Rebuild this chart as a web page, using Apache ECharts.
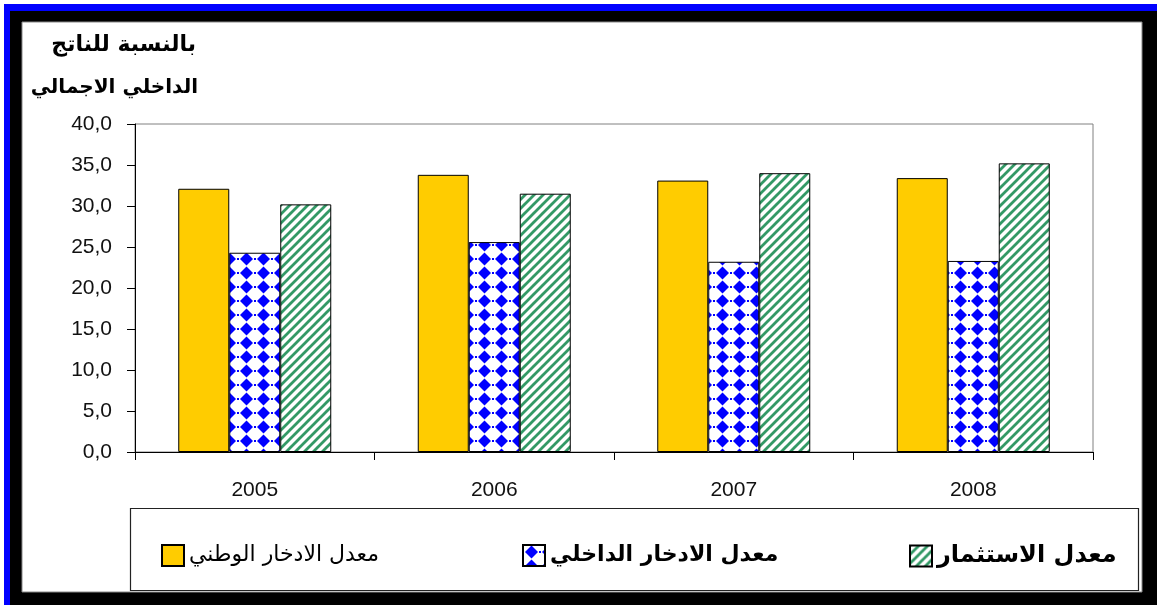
<!DOCTYPE html>
<html>
<head>
<meta charset="utf-8">
<script src="https://cdn.jsdelivr.net/npm/echarts@6/dist/echarts.min.js"></script>
<style>
html,body{margin:0;padding:0;background:#fff;}
#c{width:1157px;height:605px;}
</style>
</head>
<body>
<div id="c"></div>
<script>
const categories = ['2005', '2006', '2007', '2008'];
const nationalSaving = [32.1, 33.8, 33.1, 33.4];
const domesticSaving = [24.3, 25.6, 23.2, 23.3];
const investment = [30.2, 31.5, 34.0, 35.2];
const seriesNames = ['معدل الادخار الوطني', 'معدل الادخار الداخلي', 'معدل الاستثمار'];
const titleLines = ['بالنسبة للناتج', 'الداخلي الاجمالي'];

function makeHatch() {
  const c = document.createElement('canvas');
  c.width = 9; c.height = 9;
  const g = c.getContext('2d');
  g.fillStyle = '#fff'; g.fillRect(0, 0, 9, 9);
  g.strokeStyle = '#339966'; g.lineWidth = 2.8;
  g.beginPath();
  for (let k = -1; k <= 1; k++) { g.moveTo(k * 9 - 1, 10); g.lineTo(k * 9 + 10, -1); }
  g.stroke();
  return c;
}
function makeDiamonds() {
  const w = 17, h = 14;
  const c = document.createElement('canvas');
  c.width = w; c.height = h;
  const g = c.getContext('2d');
  g.fillStyle = '#fff'; g.fillRect(0, 0, w, h);
  g.fillStyle = '#0000ff';
  g.beginPath();
  g.moveTo(8.5, 0.5); g.lineTo(15, 7); g.lineTo(8.5, 13.5); g.lineTo(2, 7); g.closePath();
  g.fill();
  g.fillRect(0, 6, 1, 2); g.fillRect(16, 6, 1, 2);
  return c;
}

const chart = echarts.init(document.getElementById('c'), null, {renderer: 'canvas'});
const border = {borderColor: '#000', borderWidth: 1};
const legendBase = {
  top: 539, itemWidth: 22, itemHeight: 21, icon: 'rect', orient: 'horizontal',
  selectedMode: false,
  textStyle: {fontFamily: 'DejaVu Sans', fontSize: 22, color: '#000'}
};
chart.setOption({
  animation: false,
  backgroundColor: '#fff',
  graphic: [
    {type: 'rect', shape: {x: 4, y: 4, width: 1153, height: 601}, style: {fill: '#0000ff'}, z: -10},
    {type: 'rect', shape: {x: 10, y: 11, width: 1147, height: 594}, style: {fill: '#000'}, z: -9},
    {type: 'rect', shape: {x: 22, y: 22, width: 1120, height: 570}, style: {fill: '#fff', stroke: '#888', lineWidth: 1}, z: -8},
    {type: 'rect', shape: {x: 130.5, y: 508.5, width: 1008, height: 82}, style: {fill: 'none', stroke: '#222', lineWidth: 1.2}, z: -7},
    {type: 'text', x: 196, y: 45, style: {text: titleLines[0], align: 'right', verticalAlign: 'middle', font: 'bold 22px "DejaVu Sans"', fill: '#000'}},
    {type: 'text', x: 198, y: 88, style: {text: titleLines[1], align: 'right', verticalAlign: 'middle', font: 'bold 20px "DejaVu Sans"', fill: '#000'}}
  ],
  legend: [
    Object.assign({}, legendBase, {left: 156, data: [seriesNames[0]], textStyle: Object.assign({}, legendBase.textStyle, {fontWeight: 'normal'})}),
    Object.assign({}, legendBase, {left: 517, data: [seriesNames[1]], textStyle: Object.assign({}, legendBase.textStyle, {fontWeight: 'bold'})}),
    Object.assign({}, legendBase, {left: 904, data: [seriesNames[2]], textStyle: Object.assign({}, legendBase.textStyle, {fontWeight: 'bold', fontSize: 24})})
  ],
  grid: {left: 135, top: 124, right: 64, bottom: 153, show: true, borderColor: '#808080', borderWidth: 1, backgroundColor: '#fff'},
  xAxis: {
    type: 'category', data: categories,
    axisLine: {lineStyle: {color: '#000', width: 1}},
    axisTick: {show: true, alignWithLabel: false, length: 8, lineStyle: {color: '#000'}},
    axisLabel: {margin: 28, color: '#111', fontFamily: 'Liberation Sans', fontSize: 21}
  },
  yAxis: {
    type: 'value', min: 0, max: 40, interval: 5,
    axisLine: {show: true, lineStyle: {color: '#000', width: 1}},
    axisTick: {show: true, length: 8, lineStyle: {color: '#000'}},
    splitLine: {show: false},
    axisLabel: {margin: 23, color: '#111', fontFamily: 'Liberation Sans', fontSize: 21,
      formatter: v => v.toFixed(1).replace('.', ',')}
  },
  series: [
    {name: seriesNames[0], type: 'bar', data: nationalSaving, barWidth: 51, barGap: '0%',
      itemStyle: Object.assign({color: '#ffcc00'}, border)},
    {name: seriesNames[1], type: 'bar', data: domesticSaving, barWidth: 51, barGap: '0%',
      itemStyle: Object.assign({color: {image: makeDiamonds(), repeat: 'repeat'}}, border)},
    {name: seriesNames[2], type: 'bar', data: investment, barWidth: 51, barGap: '0%',
      itemStyle: Object.assign({color: {image: makeHatch(), repeat: 'repeat'}}, border)}
  ]
});
</script>
</body>
</html>
